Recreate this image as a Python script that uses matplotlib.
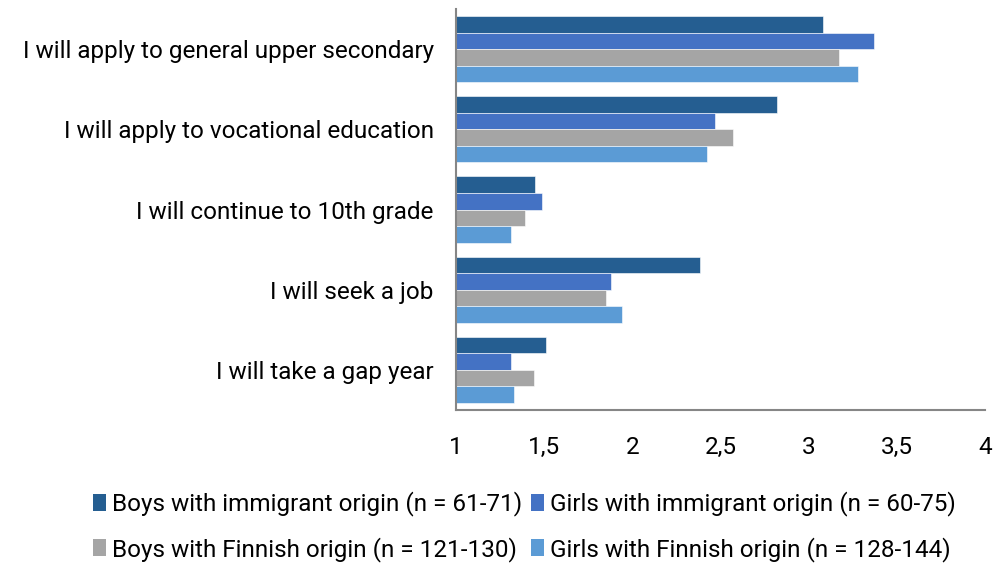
import matplotlib.pyplot as plt
import matplotlib.font_manager as fm
from matplotlib.patches import Patch
import numpy as np

# ---- data ----
categories = [
    "I will apply to general upper secondary",
    "I will apply to vocational education",
    "I will continue to 10th grade",
    "I will seek a job",
    "I will take a gap year",
]
boys_immigrant = [3.08, 2.82, 1.45, 2.38, 1.51]
girls_immigrant = [3.37, 2.47, 1.49, 1.88, 1.31]
boys_finnish = [3.17, 2.57, 1.39, 1.85, 1.44]
girls_finnish = [3.28, 2.42, 1.31, 1.94, 1.33]

series_labels = [
    "Boys with immigrant origin (n = 61-71)",
    "Girls with immigrant origin (n = 60-75)",
    "Boys with Finnish origin (n = 121-130)",
    "Girls with Finnish origin (n = 128-144)",
]
colors = ["#255E91", "#4472C4", "#A5A5A5", "#5B9BD5"]
x_ticks = [1, 1.5, 2, 2.5, 3, 3.5, 4]

# ---- style ----
names = {f.name for f in fm.fontManager.ttflist}
family = "Liberation Sans Narrow" if "Liberation Sans Narrow" in names else "Roboto"
plt.rcParams["font.family"] = [family, "DejaVu Sans"]
FS = 17.5

fig = plt.figure(figsize=(9.95, 5.66), dpi=100)
ax = fig.add_axes([0.4583, 0.2756, 0.532, 0.7084])

series = [boys_immigrant, girls_immigrant, boys_finnish, girls_finnish]
n = len(series)
bar_h = 0.825 / n
y = np.arange(len(categories))

for i, (vals, col) in enumerate(zip(series, colors)):
    offs = y - 0.4125 + bar_h * (i + 0.5)
    ax.barh(offs, np.array(vals) - 1, left=1, height=bar_h, color=col,
            edgecolor="white", linewidth=0.4)

ax.set_ylim(len(categories) - 0.5, -0.5)
ax.set_xlim(1, 4)
ax.set_xticks(x_ticks)
ax.set_xticklabels([f"{t:g}".replace(".", ",") for t in x_ticks])
ax.set_yticks(y)
ax.set_yticklabels(categories)
ax.tick_params(axis="both", length=0, labelsize=FS, colors="black")
ax.tick_params(axis="x", pad=19)
ax.tick_params(axis="y", pad=16)

for side in ("top", "right"):
    ax.spines[side].set_visible(False)
for side in ("left", "bottom"):
    ax.spines[side].set_color("#868686")
    ax.spines[side].set_linewidth(1.5)

# legend: two rows, filled column-wise
handles = [Patch(facecolor=c, edgecolor="none") for c in colors]
order = [0, 2, 1, 3]
fig.legend([handles[k] for k in order], [series_labels[k] for k in order],
           ncol=2, loc="lower center", bbox_to_anchor=(0.527, -0.031),
           frameon=False, fontsize=FS, handlelength=0.55, handleheight=0.7,
           handletextpad=0.25, columnspacing=0.35, labelspacing=0.85)

fig.savefig("out.png", dpi=100)
